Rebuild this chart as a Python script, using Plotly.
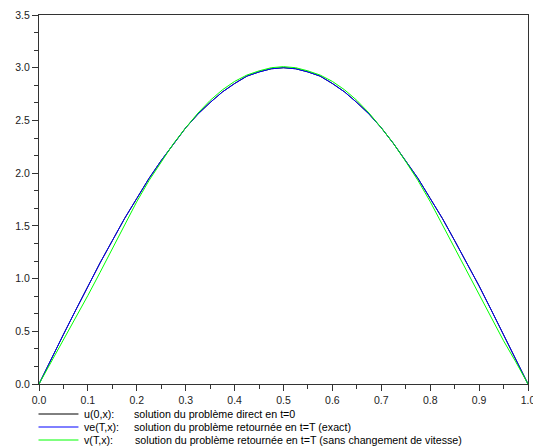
import plotly.graph_objects as go

x = [i * 0.025 for i in range(41)]

half_u = [0.00, 0.24, 0.47, 0.70, 0.93, 1.15, 1.36, 1.57, 1.76, 1.95, 2.12,
          2.28, 2.43, 2.56, 2.67, 2.77, 2.85, 2.92, 2.96, 2.99, 3.00]
u0 = half_u + half_u[-2::-1]
ve = list(u0)
half_v = [0.00, 0.21, 0.41, 0.62, 0.84, 1.06, 1.28, 1.51, 1.73, 1.93, 2.11,
          2.28, 2.43, 2.57, 2.69, 2.79, 2.87, 2.93, 2.97, 3.00, 3.01]
v = half_v + half_v[-2::-1]

x_ticks = [0.0, 0.1, 0.2, 0.3, 0.4, 0.5, 0.6, 0.7, 0.8, 0.9, 1.0]
y_ticks = [0.0, 0.5, 1.0, 1.5, 2.0, 2.5, 3.0, 3.5]

labels = ["u(0,x):", "ve(T,x):", "v(T,x):"]
descs = ["solution du problème direct en t=0",
         "solution du problème retournée en t=T (exact)",
         "solution du problème retournée en t=T (sans changement de vitesse)"]
colors = ["#000000", "#0000ff", "#00ff00"]
series = [u0, ve, v]

FONT = "Liberation Sans, Arial, sans-serif"
W, H = 533, 448
L, R, T, B = 38.5, 5, 15, 64
pw, ph = W - L - R, H - T - B

fig = go.Figure()
for ys, c, lab in zip(series, colors, labels):
    fig.add_trace(go.Scatter(x=x, y=ys, mode="lines", line=dict(color=c, width=1),
                             name=lab, showlegend=False, hoverinfo="skip"))

def px2x(p):
    return (p - L) / pw

def py2y(p):
    return (H - B - p) / ph

rows_y = [414, 427, 440]
desc_x = [132, 132, 133]
for i in range(3):
    yy = py2y(rows_y[i])
    fig.add_shape(type="line", xref="paper", yref="paper", x0=px2x(38), x1=px2x(78),
                  y0=yy, y1=yy, line=dict(color=colors[i], width=1))
    fig.add_annotation(xref="paper", yref="paper", x=px2x(82), y=yy, text=labels[i],
                       showarrow=False, xanchor="left", yanchor="middle",
                       font=dict(size=10.7, color="#000000", family=FONT))
    fig.add_annotation(xref="paper", yref="paper", x=px2x(desc_x[i]), y=yy, text=descs[i],
                       showarrow=False, xanchor="left", yanchor="middle",
                       font=dict(size=10.7, color="#000000", family=FONT))

axis_common = dict(showgrid=False, zeroline=False, showline=True, linecolor="#333333",
                   linewidth=1, mirror=True, ticks="outside", ticklen=6, tickwidth=1,
                   tickcolor="#333333", tickmode="array", ticklabeloverflow="allow",
                   automargin=False,
                   tickfont=dict(size=10.5, color="#222222", family=FONT))

fig.update_xaxes(range=[0, 1], tickvals=x_ticks, ticktext=[f"{t:.1f}" for t in x_ticks],
                 minor=dict(tickmode="linear", tick0=0, dtick=0.05, ticks="outside",
                            ticklen=4, tickcolor="#333333"),
                 **axis_common)
fig.update_yaxes(range=[0, 3.5], tickvals=y_ticks, ticktext=[f"{t:.1f}" for t in y_ticks],
                 minor=dict(tickmode="linear", tick0=0, dtick=0.5 / 3, ticks="outside",
                            ticklen=4, tickcolor="#333333"),
                 **axis_common)

fig.update_layout(width=W, height=H, margin=dict(l=L, r=R, t=T, b=B, pad=0, autoexpand=False),
                  plot_bgcolor="white", paper_bgcolor="white",
                  font=dict(family=FONT, size=10), hovermode=False)

fig.write_html("out.html", config={"displayModeBar": False},
               post_script="document.body.style.margin='0';document.body.style.overflow='hidden';")
